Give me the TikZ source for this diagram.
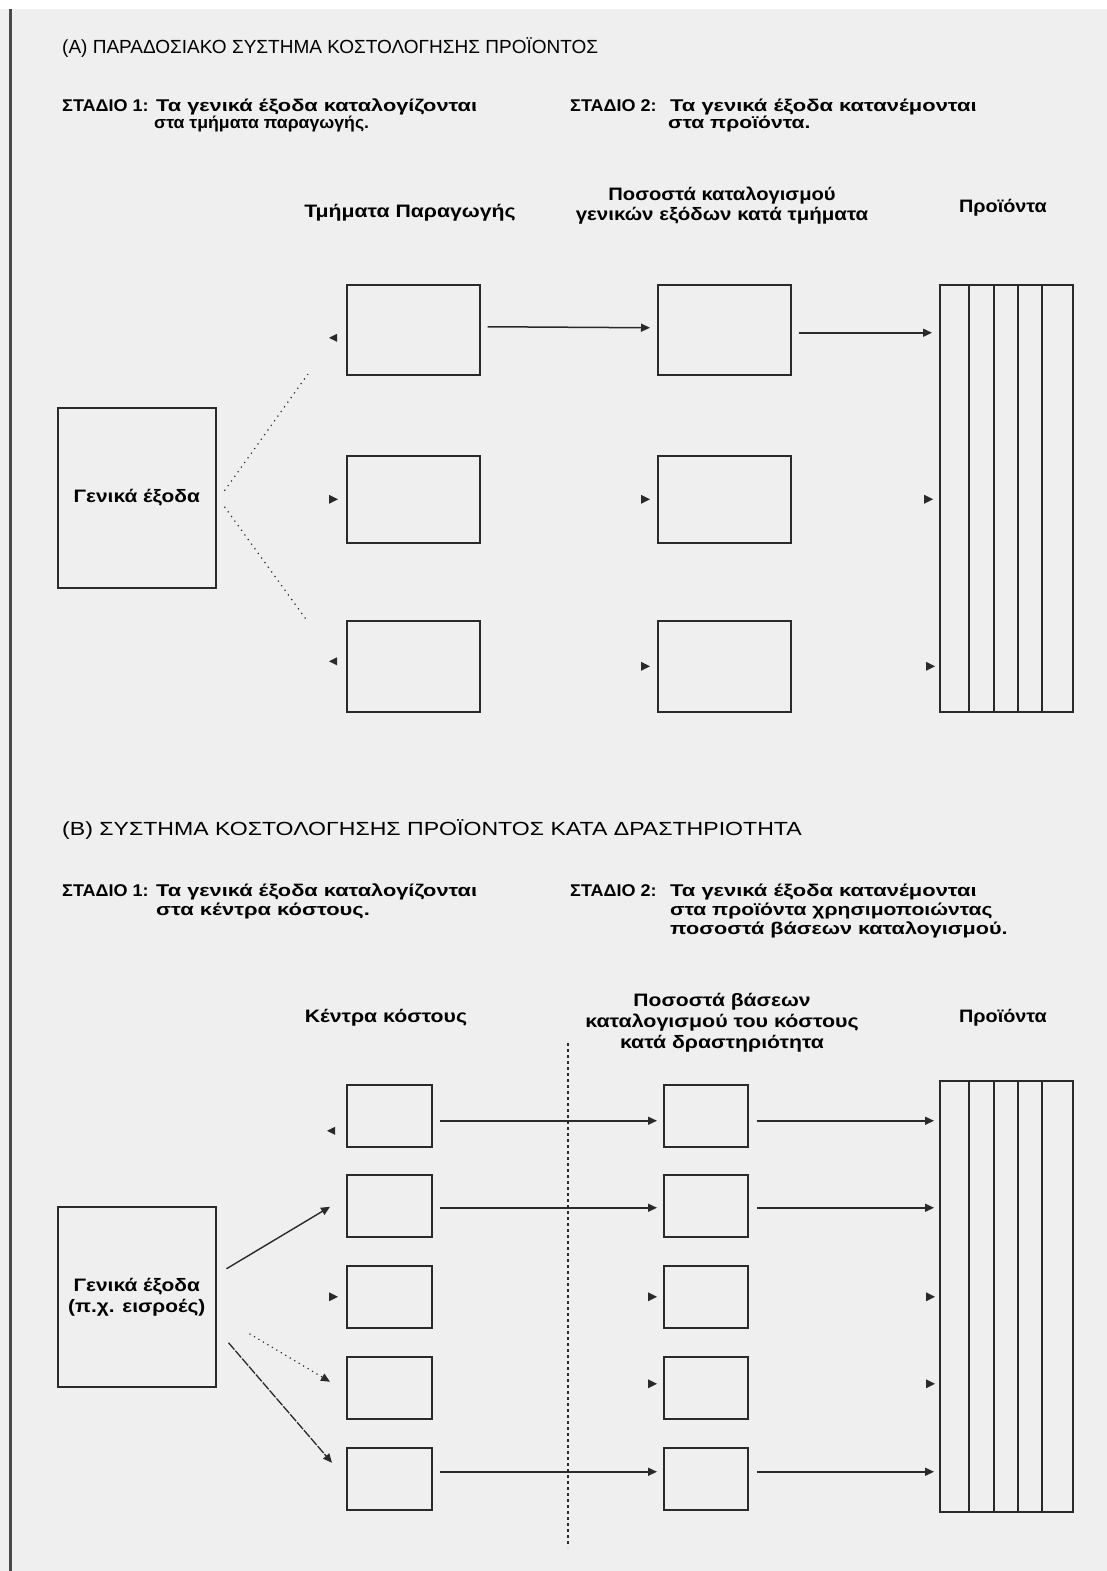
\documentclass[tikz,border=0pt]{standalone}
\usepackage{graphicx}
\usepackage{fontspec}
\setmainfont{Liberation Sans}
\usetikzlibrary{arrows.meta,calc}
\definecolor{bgc}{HTML}{EFEFEF}
\definecolor{ink}{HTML}{2A2A2A}
\definecolor{rule}{HTML}{4A4A4A}
% horizontal widening of a piece of text
\newcommand{\hwide}[2]{\scalebox{#1}[1]{#2}}

\begin{document}
\begin{tikzpicture}[x=1pt,y=-1pt,
  box/.style={draw=ink,line width=1.5pt,inner sep=0pt,anchor=north west,
              font=\bfseries\fontsize{18}{21}\selectfont,align=center},
  ttl/.style={inner sep=0pt,anchor=base west,font=\fontsize{19}{22}\selectfont},
  stg/.style={inner sep=0pt,anchor=base west,font=\bfseries\fontsize{17}{20}\selectfont},
  lbl/.style={inner sep=0pt,anchor=base,font=\bfseries\fontsize{18}{21}\selectfont},
  arr/.style={draw=ink,line width=1.5pt,-{Triangle[length=9pt,width=8pt]}},
  dotline/.style={draw=ink,line width=1.2pt,dash pattern=on 1.2pt off 4.5pt},
  stubhead/.style={fill=ink},
  divider/.style={draw=ink,line width=1.5pt}]

\useasboundingbox (0,0) rectangle (1107,1571);
\fill[white] (0,0) rectangle (1107,9);
\fill[bgc] (0,9) rectangle (1107,1571);
\draw[rule,line width=3pt] (10.5,9) -- (10.5,1571);

% ---------------- (A) traditional costing ----------------
\node[ttl] (tA) at (62,53) {(A) ΠΑΡΑΔΟΣΙΑΚΟ ΣΥΣΤΗΜΑ ΚΟΣΤΟΛΟΓΗΣΗΣ ΠΡΟΪΟΝΤΟΣ};

\node[stg] (sA1) at (62,111) {\hwide{1.06}{ΣΤΑΔΙΟ 1:}};
\node[stg] (sA1a) at (156,111) {\hwide{1.28}{Τα γενικά έξοδα καταλογίζονται}};
\node[stg] (sA1b) at (154,128) {\hwide{1.04}{στα τμήματα παραγωγής.}};
\node[stg] (sA2) at (570,111) {\hwide{1.06}{ΣΤΑΔΙΟ 2:}};
\node[stg] (sA2a) at (670,111) {\hwide{1.29}{Τα γενικά έξοδα κατανέμονται}};
\node[stg] (sA2b) at (668,128) {\hwide{1.24}{στα προϊόντα.}};

\node[lbl] (hA1) at (410,217) {\hwide{1.18}{Τμήματα Παραγωγής}};
\node[lbl] (hA2a) at (722,200) {\hwide{1.12}{Ποσοστά καταλογισμού}};
\node[lbl] (hA2b) at (722,220) {\hwide{1.14}{γενικών εξόδων κατά τμήματα}};
\node[lbl] (hA3) at (1003,212) {\hwide{1.1}{Προϊόντα}};

\node[box,minimum width=158pt,minimum height=180pt] (gA) at (57,407) {\hwide{1.16}{Γενικά έξοδα}};

\node[box,minimum width=133pt,minimum height=90pt] (a1) at (346,284) {};
\node[box,minimum width=133pt,minimum height=87pt] (a2) at (346,455) {};
\node[box,minimum width=133pt,minimum height=91pt] (a3) at (346,620) {};

\node[box,minimum width=133pt,minimum height=90pt] (b1) at (657,284) {};
\node[box,minimum width=133pt,minimum height=87pt] (b2) at (657,455) {};
\node[box,minimum width=133pt,minimum height=91pt] (b3) at (657,620) {};

\node[box,minimum width=133pt,minimum height=427pt] (pA) at (939,284) {};
\foreach \dx in {30,55,79,103}
  \draw[divider] ($(pA.north west)+(\dx,0)$) -- ($(pA.south west)+(\dx,0)$);

% dotted allocation lines
\coordinate (gAup) at (308,374);
\coordinate (gAdn) at (308,622);
\draw[dotline] ($(gA.east)+(8,-7)$) -- (gAup);
\draw[dotline] ($(gA.east)+(8,9)$) -- (gAdn);

\draw[arr] ($(a1.east)+(7,-3)$) -- ($(b1.west)+(-7,-2)$);
\draw[arr] ($(b1.east)+(7,3)$) -- ($(pA.west |- b1.east)+(-7,3)$);

% loose arrow heads
\fill[stubhead] ($(a1.west)+(-17,8)$) -- ++(8,-4) -- ++(0,8) -- cycle;
\fill[stubhead] ($(a2.west)+(-8,0)$) -- ++(-9,-4.5) -- ++(0,9) -- cycle;
\fill[stubhead] ($(a3.west)+(-17,-5)$) -- ++(8,-4) -- ++(0,8) -- cycle;
\fill[stubhead] ($(b2.west)+(-7,0)$) -- ++(-9,-4.5) -- ++(0,9) -- cycle;
\fill[stubhead] ($(b3.west)+(-7,0)$) -- ++(-9,-4.5) -- ++(0,9) -- cycle;
\fill[stubhead] ($(pA.west |- b2.west)+(-6,0)$) -- ++(-9,-4.5) -- ++(0,9) -- cycle;
\fill[stubhead] ($(pA.west |- b3.west)+(-4,0)$) -- ++(-9,-4.5) -- ++(0,9) -- cycle;

% ---------------- (B) activity-based costing ----------------
\node[ttl] (tB) at (62,835) {\hwide{1.215}{(B) ΣΥΣΤΗΜΑ ΚΟΣΤΟΛΟΓΗΣΗΣ ΠΡΟΪΟΝΤΟΣ ΚΑΤΑ ΔΡΑΣΤΗΡΙΟΤΗΤΑ}};

\node[stg] (sB1) at (62,896) {\hwide{1.06}{ΣΤΑΔΙΟ 1:}};
\node[stg] (sB1a) at (156,896) {\hwide{1.28}{Τα γενικά έξοδα καταλογίζονται}};
\node[stg] (sB1b) at (156,915) {\hwide{1.29}{στα κέντρα κόστους.}};
\node[stg] (sB2) at (570,896) {\hwide{1.06}{ΣΤΑΔΙΟ 2:}};
\node[stg] (sB2a) at (670,896) {\hwide{1.29}{Τα γενικά έξοδα κατανέμονται}};
\node[stg] (sB2b) at (670,915) {\hwide{1.24}{στα προϊόντα χρησιμοποιώντας}};
\node[stg] (sB2c) at (670,934) {\hwide{1.27}{ποσοστά βάσεων καταλογισμού.}};

\node[lbl] (hB1) at (386,1022) {\hwide{1.18}{Κέντρα κόστους}};
\node[lbl] (hB2a) at (722,1006) {\hwide{1.17}{Ποσοστά βάσεων}};
\node[lbl] (hB2b) at (722,1027) {\hwide{1.19}{καταλογισμού του κόστους}};
\node[lbl] (hB2c) at (722,1048) {\hwide{1.18}{κατά δραστηριότητα}};
\node[lbl] (hB3) at (1003,1022) {\hwide{1.1}{Προϊόντα}};

\node[box,minimum width=158pt,minimum height=180pt] (gB) at (57,1206)
  {\hwide{1.16}{Γενικά έξοδα}\\\hwide{1.16}{(π.χ. εισροές)}};

\foreach \i/\t in {1/1084,2/1174,3/1265,4/1356,5/1447} {
  \node[box,minimum width=85pt,minimum height=62pt] (c\i) at (346,\t) {};
  \node[box,minimum width=84pt,minimum height=62pt] (d\i) at (663,\t) {};
}

\node[box,minimum width=133pt,minimum height=431pt] (pB) at (939,1080) {};
\foreach \dx in {30,55,79,103}
  \draw[divider] ($(pB.north west)+(\dx,0)$) -- ($(pB.south west)+(\dx,0)$);

% separator between the two stages
\coordinate (sepT) at (568,1043);
\coordinate (sepB) at (568,1547);
\draw[draw=ink,line width=1.3pt,dash pattern=on 3pt off 3pt] (sepT) -- (sepB);

% overhead to cost centres
\draw[arr,line width=1.4pt] ($(gB.east)+(10,-28)$) -- ($(c2.west)+(-16,1)$);
\draw[arr,line width=1.2pt,dash pattern=on 1.2pt off 4pt] ($(gB.east)+(33,37)$) -- ($(c4.west)+(-16,-6)$);
\draw[arr,line width=1.3pt,dash pattern=on 9pt off 1.5pt] ($(gB.east)+(12,46)$) -- ($(c5.west)+(-14,-16)$);

% cost centres to activity rates to products
\draw[arr] ($(c1.east)+(7,5)$) -- ($(d1.west)+(-6,5)$);
\draw[arr] ($(d1.east)+(8,5)$) -- ($(pB.west |- d1.east)+(-5,5)$);
\draw[arr] ($(c2.east)+(7,2)$) -- ($(d2.west)+(-6,2)$);
\draw[arr] ($(d2.east)+(8,2)$) -- ($(pB.west |- d2.east)+(-5,2)$);
\draw[arr] ($(c5.east)+(7,-7)$) -- ($(d5.west)+(-6,-7)$);
\draw[arr] ($(d5.east)+(8,-7)$) -- ($(pB.west |- d5.east)+(-5,-7)$);

% loose arrow heads
\fill[stubhead] ($(c1.west)+(-19,15)$) -- ++(8,-4) -- ++(0,8) -- cycle;
\fill[stubhead] ($(c3.west)+(-8,0)$) -- ++(-9,-4.5) -- ++(0,9) -- cycle;
\fill[stubhead] ($(d3.west)+(-6,0)$) -- ++(-9,-4.5) -- ++(0,9) -- cycle;
\fill[stubhead] ($(d4.west)+(-6,-4)$) -- ++(-9,-4.5) -- ++(0,9) -- cycle;
\fill[stubhead] ($(pB.west |- d3.west)+(-4,0)$) -- ++(-9,-4.5) -- ++(0,9) -- cycle;
\fill[stubhead] ($(pB.west |- d4.west)+(-4,-4)$) -- ++(-9,-4.5) -- ++(0,9) -- cycle;

\end{tikzpicture}
\end{document}
